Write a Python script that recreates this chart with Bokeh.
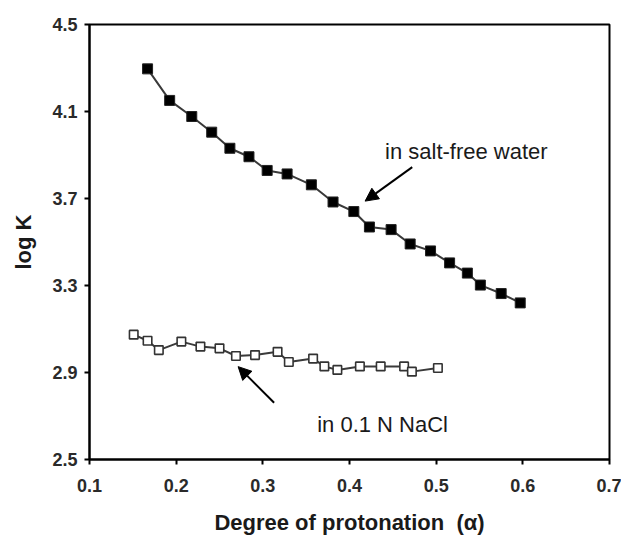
from bokeh.plotting import figure
from bokeh.models import Range1d, FixedTicker, BasicTickFormatter, Label, Arrow, NormalHead
from bokeh.embed import file_html
from bokeh.resources import INLINE

# Data
x_water = [0.167, 0.1925, 0.218, 0.241, 0.262, 0.284, 0.305, 0.328, 0.356, 0.381,
           0.405, 0.423, 0.448, 0.470, 0.4935, 0.5155, 0.536, 0.551, 0.575, 0.597]
y_water = [4.296, 4.151, 4.077, 4.005, 3.931, 3.892, 3.829, 3.813, 3.763, 3.684,
           3.640, 3.569, 3.557, 3.491, 3.459, 3.404, 3.357, 3.302, 3.263, 3.220]

x_nacl = [0.151, 0.167, 0.180, 0.206, 0.228, 0.250, 0.269, 0.291, 0.317, 0.330,
          0.358, 0.371, 0.386, 0.412, 0.436, 0.463, 0.472, 0.502]
y_nacl = [3.074, 3.046, 3.003, 3.042, 3.019, 3.011, 2.976, 2.980, 2.995, 2.948,
          2.964, 2.928, 2.912, 2.928, 2.928, 2.928, 2.904, 2.921]

x_ticks = [0.1, 0.2, 0.3, 0.4, 0.5, 0.6, 0.7]
y_ticks = [2.5, 2.9, 3.3, 3.7, 4.1, 4.5]

FONT = "Liberation Sans"
TXT = "#1a1a1a"

p = figure(width=621, height=537, output_backend="svg", toolbar_location=None,
           x_range=Range1d(0.1, 0.7), y_range=Range1d(2.5, 4.5),
           min_border_left=89, min_border_right=12, min_border_top=24, min_border_bottom=77)
p.background_fill_color = "white"
p.border_fill_color = "white"
p.outline_line_color = "black"
p.outline_line_width = 2
p.xgrid.visible = False
p.ygrid.visible = False

for ax in (p.xaxis[0], p.yaxis[0]):
    ax.axis_line_width = 2
    ax.axis_line_color = "black"
    ax.major_tick_line_color = "black"
    ax.major_tick_line_width = 2
    ax.major_tick_in = 0
    ax.major_tick_out = 5
    ax.minor_tick_line_color = None
    ax.major_label_text_font = FONT
    ax.major_label_text_font_size = "18px"
    ax.major_label_text_font_style = "bold"
    ax.major_label_text_color = "#2a2a2a"
    ax.axis_label_text_font = FONT
    ax.axis_label_text_font_style = "bold"
    ax.axis_label_text_color = TXT
    ax.formatter = BasicTickFormatter(precision=1)

p.xaxis.ticker = FixedTicker(ticks=x_ticks)
p.yaxis.ticker = FixedTicker(ticks=y_ticks)
p.xaxis.axis_label = "Degree of protonation\u00a0\u00a0(α)"
p.yaxis.axis_label = "log K"
p.xaxis.axis_label_text_font_size = "22px"
p.yaxis.axis_label_text_font_size = "22px"
p.xaxis.major_label_standoff = 14
p.yaxis.major_label_standoff = 7
p.xaxis.axis_label_standoff = 15
p.yaxis.axis_label_standoff = 13

# Series
p.line(x_water, y_water, line_color="#3a3a3a", line_width=2)
p.scatter(x_water, y_water, marker="square", size=10, fill_color="black",
          line_color="#222222", line_width=1)

p.line(x_nacl, y_nacl, line_color="#3a3a3a", line_width=2)
p.scatter(x_nacl, y_nacl, marker="square", size=8.5, fill_color="white",
          line_color="#333333", line_width=1.6)

# Annotations
p.add_layout(Label(x=0.441, y=3.917, text="in salt-free water", text_font=FONT,
                   text_font_size="22px", text_color=TXT, text_baseline="alphabetic"))
p.add_layout(Label(x=0.3627, y=2.66, text="in 0.1 N NaCl", text_font=FONT,
                   text_font_size="22px", text_color=TXT, text_baseline="alphabetic"))

p.add_layout(Arrow(x_start=0.4724, y_start=3.844, x_end=0.418, y_end=3.688,
                   line_width=2, line_color="black",
                   end=NormalHead(size=13, fill_color="black", line_color="black")))
p.add_layout(Arrow(x_start=0.313, y_start=2.761, x_end=0.2715, y_end=2.927,
                   line_width=2, line_color="black",
                   end=NormalHead(size=13, fill_color="black", line_color="black")))

open("out.html", "w").write(file_html(p, INLINE))
